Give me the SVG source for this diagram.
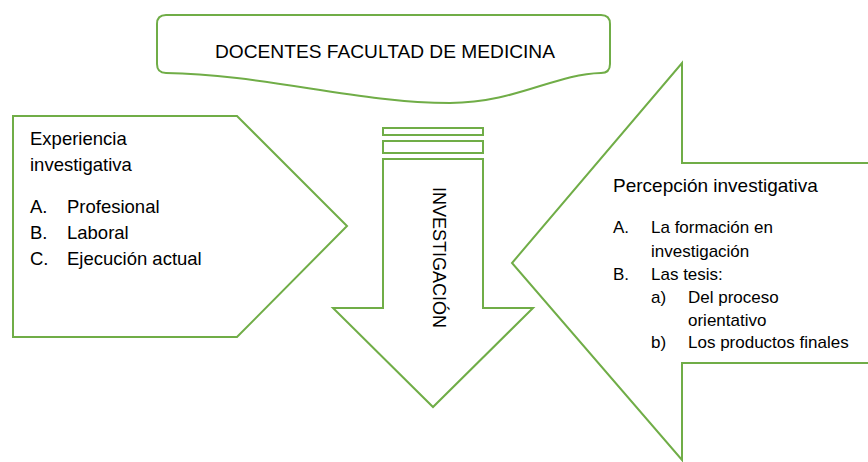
<svg xmlns="http://www.w3.org/2000/svg" width="868" height="462" viewBox="0 0 868 462">
<style>
.shape{fill:#ffffff;stroke:#70AD47;stroke-width:2;stroke-linejoin:miter}
.t{font-family:"Liberation Sans",Arial,sans-serif;fill:#000000}
.h{font-size:19px}
.l{font-size:18.5px}
.r{font-size:17px}
</style>
<rect width="868" height="462" fill="#ffffff"/>
<g id="docentes">
<path class="shape" d="M166 15 H601 Q610 15 610 24 V64 Q610 73 601 73 C555 74 515 103 450 103 C360 103 260 74 166 73 Q157 73 157 64 V24 Q157 15 166 15 Z"/>
<text class="t h" x="385" y="58" text-anchor="middle" textLength="340" lengthAdjust="spacingAndGlyphs">DOCENTES FACULTAD DE MEDICINA</text>
</g>
<g id="experiencia">
<path class="shape" d="M13 116 H237 L347 226 L237 337 H13 Z"/>
<text class="t l" x="30" y="145">Experiencia</text>
<text class="t l" x="30" y="171">investigativa</text>
<text class="t l" x="30" y="213">A.</text><text class="t l" x="67" y="213">Profesional</text>
<text class="t l" x="30" y="239">B.</text><text class="t l" x="67" y="239">Laboral</text>
<text class="t l" x="30" y="265">C.</text><text class="t l" x="67" y="265">Ejecución actual</text>
</g>
<g id="investigacion">
<rect class="shape" x="383" y="128" width="100" height="7"/>
<rect class="shape" x="383" y="141" width="100" height="12"/>
<path class="shape" d="M383 159 H483 V308 H533 L433 407 L333 308 H383 Z"/>
<text class="t" font-size="18" transform="translate(433,187) rotate(90)" x="0" y="0" textLength="141" lengthAdjust="spacingAndGlyphs">INVESTIGACIÓN</text>
</g>
<g id="percepcion">
<path class="shape" d="M870 163 H682 V63 L512 263 L682 460 V363 H870"/>
<text class="t h" x="613" y="192">Percepción investigativa</text>
<text class="t r" x="613" y="233">A.</text><text class="t r" x="651" y="233">La formación en</text>
<text class="t r" x="651" y="257">investigación</text>
<text class="t r" x="613" y="280">B.</text><text class="t r" x="651" y="280">Las tesis:</text>
<text class="t r" x="651" y="303">a)</text><text class="t r" x="688" y="303">Del proceso</text>
<text class="t r" x="688" y="326">orientativo</text>
<text class="t r" x="651" y="348">b)</text><text class="t r" x="688" y="348">Los productos finales</text>
</g>
<g id="connectors"></g>
</svg>
